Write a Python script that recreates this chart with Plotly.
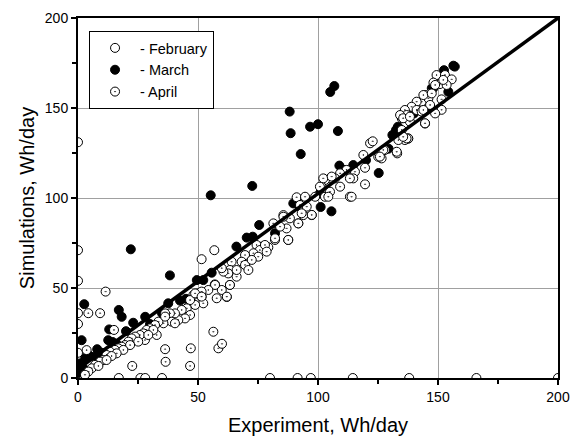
import plotly.graph_objects as go

# February (plain open circles)
feb_x = [0, 0, 0, 0, 0, 0, 17, 26, 28, 35, 80, 91.5, 97, 114.5, 138, 166, 200, 51.5, 56.8]
feb_y = [131, 71, 54, 36, 30, 14, 0, 0, 0, 0, 0, 0, 0, 0, 0, 0, 0, 66, 71]

# March (filled circles)
mar_x = [0, 2.2, 0.8, 4.3, 7.1, 3, 5, 1.5, 12.6, 14.4, 13, 2.6, 17, 18.2, 23, 28, 8, 10, 16, 20, 30, 35,
         45, 22, 38.3, 37.6, 42.5, 52.2, 55.7, 49.5, 55.3, 66, 70.3, 72.8, 75.5, 72.6, 82.1, 89.7,
         92.5, 101.1, 105.6, 100.8, 88.2, 88.6, 96.7, 100, 108.3, 92.8, 106.8, 105.1, 108.9, 114.7,
         125.3, 129.4, 132.5, 133.3, 131, 146.7, 147.4, 148, 152.5, 154.3, 156.4, 157, 110, 120, 140]
mar_y = [2.6, 5.4, 8.1, 12.8, 11.9, 11, 12, 21, 21, 20, 27, 41, 37.8, 34, 30.7, 34, 16, 14, 19, 26, 30, 36,
         44, 71.5, 57, 41.5, 43, 54.4, 58.5, 54.4, 101.5, 73, 78, 78.5, 85, 106.7, 80.4, 97,
         95, 95, 92.6, 102.6, 148, 136, 139.6, 141, 137.2, 124.4, 162.2, 158.9, 118, 118.3,
         113.9, 127.4, 137.8, 139.6, 135, 150.7, 161, 161, 171, 159, 173.5, 173, 116, 121, 147]

# April (dotted circles)
apr_x = [11.5, 4.3, 9.2, 15, 3.6, 22.6, 36.3, 36.5, 47, 46.7, 56.4, 58.5, 60, 57, 63.3, 62,
         121.7, 122.8, 119.6, 119.6, 113.3, 133, 137.6, 151.5, 144.6, 126.5,
         48.1, 50.1, 51.5, 52.2, 48.8, 46.7, 45.3, 43.2, 46.7, 44.6, 41.8, 40.4, 38.3, 36.3, 39,
         35.6, 33.5, 32.1, 30, 28.6, 27.2, 27.9, 25.8, 23.8, 22.4, 21, 19.6, 18.2, 16.8, 15.4,
         13.3, 11.9, 10.6, 9.2, 7.1, 5.7, 4.3, 2.9, 32.8, 31.4, 36.3, 40.4, 29.3, 25.1, 21.7,
         18.9, 16.1, 14, 11.9, 8.5,
         91.1, 94.6, 98.8, 102.9, 92.5, 95.3, 97.4, 93.9, 85.6, 88.3, 91.8, 86.9, 81.4, 84.2,
         82.1, 87.6, 79.3, 76.5, 74.4, 75.8, 73.1, 75.1, 69.6, 68.2, 69.6, 71, 72.4, 64, 63.3,
         62.6, 60.6, 66.1, 63.3, 59.9, 57.1, 54.3, 51.5, 48.8, 62, 57.8, 51.5, 59.9, 66.1,
         149.4, 152.9, 155.7, 148.1, 150.8, 153.6, 146.7, 144.6, 143.2, 146, 141.1, 139, 136.2,
         136.9, 134.9, 134.2, 138.3, 141.1, 143.2, 146.7, 144.6, 151.5, 137.6, 136.2, 134.9,
         125.1, 118.9, 115.4, 114.7, 111.9, 109.2, 107.1, 105, 102.9, 109.2, 105, 104.3, 101.5,
         127.9, 102.2, 105.7, 113.3, 114, 100.8, 94.6, 97.4, 93.2, 91.8, 85.6, 87.6, 82.1, 77.9,
         78.6, 135.5, 138.3, 143.9, 147.4, 148.8, 152.2, 136.9, 133.5, 135.5, 127.2, 125.8, 132.8,
         148.8, 143.9]
apr_y = [48, 36, 36, 26.7, 15.5, 6.7, 16, 9, 16.5, 6.7, 25.7, 16.5, 19, 52, 51.7, 45,
         130.4, 131.5, 107.6, 116.8, 100.7, 124.8, 133, 149, 141.4, 122,
         46.1, 47, 45.2, 41.5, 40.6, 43.3, 38.7, 37.8, 35, 33.1, 32.2, 35.9, 35.9, 35.9, 31.3,
         30.4, 31.3, 29.4, 27.6, 26.7, 24.8, 21.1, 23.9, 23, 22, 20.2, 18.3, 17.4, 16.5, 15.6,
         14.6, 12.8, 10, 9.1, 7.3, 5.4, 3.6, 1.8, 23.9, 26.7, 34.1, 30.4, 23.9, 20.2, 18.3,
         15.6, 13.7, 12.2, 10, 6.7,
         100.4, 99.8, 100.7, 100.7, 96.1, 95.2, 90.5, 90.5, 90.5, 88.7, 85.9, 83.1, 85.9, 84.1,
         76.7, 76.7, 72.6, 73, 73.9, 71.1, 69.3, 67.4, 68.3, 64.6, 62.8, 60, 65.6, 64.6, 60,
         58.1, 59.1, 56.3, 51.7, 48.9, 51.7, 48.9, 48, 47, 45.2, 44.3, 45.2, 61, 60,
         168.3, 168.3, 165.9, 164.1, 163.3, 162.8, 158.1, 157.2, 153.5, 155.4, 153.5, 150.7, 148.9,
         146.1, 144.3, 146.1, 142.4, 148.9, 148, 151.7, 141.5, 154.8, 133.1, 132.2, 137.8,
         122.9, 123.9, 114.6, 110.9, 115.6, 113.7, 110.9, 110.9, 110, 106.3, 103.5, 100.7, 106.3,
         126.7, 110.9, 111.9, 110.9, 100.7, 106.3, 100.7, 90.6, 91.5, 85.9, 89.6, 76.7, 77.6, 73.9,
         70.2, 144.3, 145.2, 157.2, 158.1, 162.8, 165.6, 133.1, 132.2, 134, 126.7, 123, 125.7,
         147, 148.9]

# Reference line
line_x = [0, 200]
line_y = [5, 200]

x_ticks = [0, 50, 100, 150, 200]
y_ticks = [0, 50, 100, 150, 200]

FONT = "Arial, Liberation Sans, sans-serif"
mk = dict(size=9, line=dict(color="black", width=1))

fig = go.Figure()
fig.add_trace(go.Scatter(x=feb_x, y=feb_y, mode="markers", name="- February",
                         marker=dict(symbol="circle", color="white", **mk)))
fig.add_trace(go.Scatter(x=mar_x, y=mar_y, mode="markers", name="- March",
                         marker=dict(symbol="circle", color="black", **mk)))
fig.add_trace(go.Scatter(x=apr_x, y=apr_y, mode="markers", name="- April",
                         marker=dict(symbol="circle-dot", color="white", **mk)))
fig.add_trace(go.Scatter(x=line_x, y=line_y, mode="lines", showlegend=False,
                         line=dict(color="black", width=3.5)))

axis_common = dict(
    automargin=False,
    showline=True, linecolor="black", linewidth=2, mirror=True,
    showgrid=True, gridcolor="#a0a0a0", gridwidth=1,
    zeroline=False, ticks="outside", ticklen=5, tickwidth=2, tickcolor="black",
    tickfont=dict(family=FONT, size=14, color="black"),
    minor=dict(ticks="outside", ticklen=4, tickwidth=2, tickcolor="black", dtick=25, showgrid=False),
)

fig.update_layout(
    width=572, height=436,
    margin=dict(l=78, r=14, t=18, b=58),
    paper_bgcolor="white", plot_bgcolor="white",
    font=dict(family=FONT, color="black"),
    showlegend=True,
    legend=dict(x=0.023, y=0.964, xanchor="left", yanchor="top",
                bgcolor="white", bordercolor="black", borderwidth=1, itemwidth=40,
                font=dict(family=FONT, size=14.5, color="black")),
    xaxis=dict(range=[0, 200], tickvals=x_ticks, **axis_common),
    yaxis=dict(range=[0, 200], tickvals=y_ticks,
               title=dict(text="Simulations, Wh/day", font=dict(family=FONT, size=20), standoff=5),
               **axis_common),
    annotations=[dict(text="Experiment, Wh/day", xref="paper", yref="paper",
                      x=0.5, y=-0.131, xanchor="center", yanchor="middle",
                      showarrow=False, font=dict(family=FONT, size=20, color="black"))],
)

fig.write_html("out.html")
